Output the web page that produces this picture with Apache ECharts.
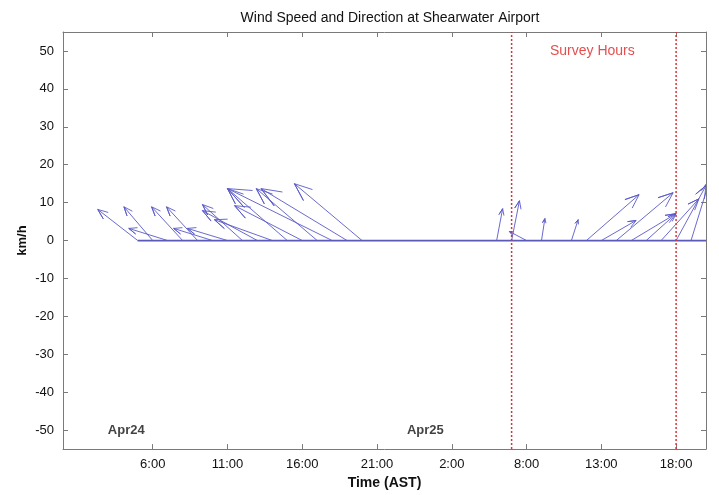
<!DOCTYPE html>
<html>
<head>
<meta charset="utf-8">
<script src="https://cdn.jsdelivr.net/npm/echarts@6/dist/echarts.min.js"></script>
<style>
  html, body { margin: 0; padding: 0; background: #ffffff; }
  #chart { width: 719px; height: 495px; }
</style>
</head>
<body>
<div id="chart"></div>
<script>
// Hourly observations, hours counted from Apr 24 00:00 AST
const hours = [5, 6, 7, 8, 9, 10, 11, 12, 13, 14, 15, 16, 17, 18, 19, 20,
               21, 22, 23, 24, 25, 26, 27, 28,
               29, 30, 31, 32, 33, 34, 35, 36, 37, 38, 39, 40, 41, 42, 43];
// Wind vector components in km/h (u = east, v = north)
const windU = [-10.7, -7.7, -10.4, -8.3, -8.3, -10.4, -10.7, -10.7, -14.7, -15.5, -16.0, -18.1, -16.3, -28.0, -23.0, -18.1,
               0, 0, 0, 0, 0, 0, 0, 0,
               1.6, 2.1, -4.6, 0.9, 0, 1.8, 14.1, 9.3, 15.2, 12.0, 8.0, 10.1, 8.0, 5.0, 8.0];
const windV = [8.2, 8.9, 3.2, 8.9, 8.9, 3.2, 3.2, 9.5, 7.9, 5.5, 13.7, 9.2, 13.7, 13.7, 13.7, 15.0,
               0, 0, 0, 0, 0, 0, 0, 0,
               8.4, 10.5, 2.4, 5.8, 0, 5.5, 12.1, 5.3, 12.6, 7.1, 7.1, 11.0, 14.5, 16.0, 12.0];

// Axis ticks
const xTickHours = [6, 11, 16, 21, 26, 31, 36, 41];
const xTickLabels = ['6:00', '11:00', '16:00', '21:00', '2:00', '8:00', '13:00', '18:00'];
const yTicks = [-50, -40, -30, -20, -10, 0, 10, 20, 30, 40, 50];

// Survey window (hours) and annotations
const surveyBounds = [30, 41];
const surveyLabel = 'Survey Hours';
const surveyLabelAt = [35.4, 50];
const dayNames = ['Apr24', 'Apr25'];
const dayHours = [3, 23];
const dayLabelLevel = -50;

const X_MIN = 0, X_MAX = 43, Y_MIN = -55, Y_MAX = 55;
// horizontal extent of a vector: hours per km/h
const HOURS_PER_KMH = 0.25;

const FONT = '"Liberation Sans", Arial, Helvetica, sans-serif';
const AXIS_COLOR = '#7a7a7a';
const ARROW_COLOR = '#5a5ac8';

const arrowData = hours.map((h, i) => [h, windU[i], windV[i]]);

// feather arrow: shaft plus two barbs, head takes 20% of the vector length
const arrowShape = [[0, 0], [1, 0], [0.8, 0.08], [1, 0], [0.8, -0.08]];

function renderArrow(params, api) {
  const t = api.value(0), u = api.value(1), v = api.value(2);
  if (u === 0 && v === 0) return null;
  const points = arrowShape.map(([a, b]) => {
    const du = a * u - b * v;
    const dv = a * v + b * u;
    return api.coord([t + du * HOURS_PER_KMH, dv]);
  });
  return {
    type: 'polyline',
    shape: { points: points },
    style: { stroke: ARROW_COLOR, lineWidth: 1, fill: null, opacity: 0.9 }
  };
}

const chart = echarts.init(document.getElementById('chart'), null, { renderer: 'canvas' });

function frameAxis(extra, ticks) {
  return Object.assign({
    type: 'value',
    axisLine: { show: true, onZero: false, lineStyle: { color: AXIS_COLOR, width: 1 } },
    axisTick: { show: true, inside: true, length: 5, lineStyle: { color: AXIS_COLOR }, customValues: ticks },
    splitLine: { show: false }
  }, extra);
}

chart.setOption({
  animation: false,
  backgroundColor: '#ffffff',
  title: {
    text: 'Wind Speed and Direction at Shearwater Airport',
    left: 385, top: 6, textAlign: 'center',
    textStyle: { fontFamily: FONT, fontSize: 14, fontWeight: 'normal', color: '#111' }
  },
  grid: { left: 63, right: 13, top: 32, bottom: 45, containLabel: false },
  xAxis: [
    frameAxis({
      position: 'bottom', min: X_MIN, max: X_MAX,
      axisLabel: {
        customValues: xTickHours, margin: 9,
        formatter: v => xTickLabels[xTickHours.indexOf(v)] || '',
        fontFamily: FONT, fontSize: 13, color: '#111'
      },
      name: 'Time (AST)', nameLocation: 'middle', nameGap: 25,
      nameTextStyle: { fontFamily: FONT, fontSize: 14, fontWeight: 'bold', color: '#111' }
    }, xTickHours),
    frameAxis({
      position: 'top', min: X_MIN, max: X_MAX,
      axisLabel: { show: false }
    }, xTickHours)
  ],
  yAxis: [
    frameAxis({
      position: 'left', min: Y_MIN, max: Y_MAX,
      axisLabel: { customValues: yTicks, margin: 9, fontFamily: FONT, fontSize: 13, color: '#111' },
      name: 'km/h', nameLocation: 'middle', nameGap: 34, nameRotate: 90, nameMoveOverlap: false,
      nameTextStyle: { fontFamily: FONT, fontSize: 13, fontWeight: 'bold', color: '#111' }
    }, yTicks),
    frameAxis({
      position: 'right', min: Y_MIN, max: Y_MAX,
      axisLabel: { show: false }
    }, yTicks)
  ],
  series: [
    {
      name: 'baseline', type: 'line', xAxisIndex: 0, yAxisIndex: 0,
      data: [[hours[0], 0], [hours[hours.length - 1], 0]],
      symbol: 'none', lineStyle: { color: '#5a5ab8', width: 1.8 }, silent: true, z: 2
    },
    {
      name: 'wind', type: 'custom', xAxisIndex: 0, yAxisIndex: 0,
      renderItem: renderArrow, data: arrowData, clip: true, silent: true, z: 3
    },
    {
      name: 'survey start', type: 'line',
      data: [[surveyBounds[0], Y_MIN], [surveyBounds[0], Y_MAX]],
      symbol: 'none', lineStyle: { color: '#e0303a', width: 1.5, type: [2, 2] }, silent: true, z: 4
    },
    {
      name: 'survey end', type: 'line',
      data: [[surveyBounds[1], Y_MIN], [surveyBounds[1], Y_MAX]],
      symbol: 'none', lineStyle: { color: '#e0303a', width: 1.5, type: [2, 2] }, silent: true, z: 4
    },
    {
      name: 'annotations', type: 'scatter', symbolSize: 0, silent: true, z: 5,
      data: [
        { value: surveyLabelAt, label: { show: true, formatter: surveyLabel, position: 'inside', align: 'center', verticalAlign: 'middle',
          fontFamily: FONT, fontSize: 14, color: '#e02020' } },
        { value: [dayHours[0], dayLabelLevel], label: { show: true, formatter: dayNames[0], position: 'inside', align: 'left', verticalAlign: 'middle',
          fontFamily: FONT, fontSize: 13, fontWeight: 'bold', color: '#111' } },
        { value: [dayHours[1], dayLabelLevel], label: { show: true, formatter: dayNames[1], position: 'inside', align: 'left', verticalAlign: 'middle',
          fontFamily: FONT, fontSize: 13, fontWeight: 'bold', color: '#111' } }
      ]
    }
  ]
});
</script>
</body>
</html>
